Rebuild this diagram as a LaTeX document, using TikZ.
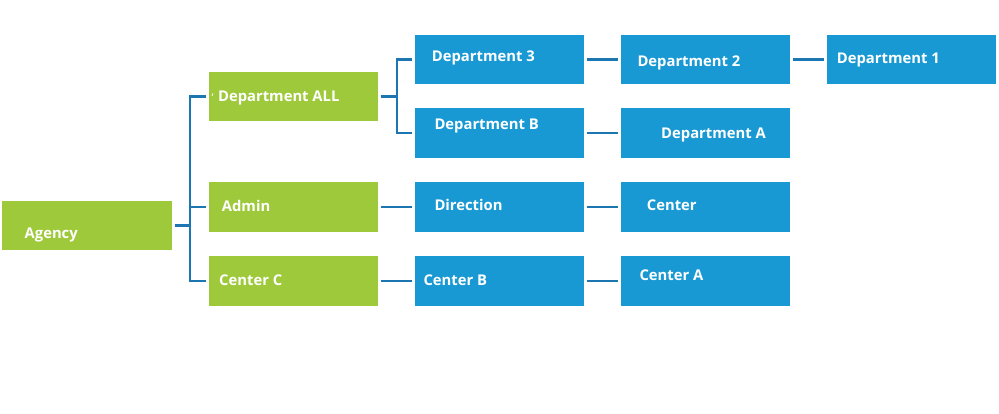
\documentclass[tikz,border=0pt]{standalone}
\usepackage{fontspec}
\setmainfont{Open Sans}
\definecolor{boxgreen}{RGB}{158,201,59}
\definecolor{boxblue}{RGB}{25,153,211}
\definecolor{linkblue}{RGB}{28,118,178}
\tikzset{
  gbox/.style={fill=boxgreen, draw=none, inner sep=0pt, minimum width=169pt, minimum height=49.5pt},
  bbox/.style={fill=boxblue, draw=none, inner sep=0pt, minimum width=169pt, minimum height=49.5pt},
  lbl/.style={anchor=base west, inner sep=0pt, text=white, font=\fontsize{14.8}{16}\selectfont\bfseries},
  link/.style={draw=linkblue, line width=2.4pt, shorten <=2.5pt, shorten >=2.5pt},
}
\begin{document}
\begin{tikzpicture}[x=1pt,y=-1pt]
\useasboundingbox (0,0) rectangle (999,414);
% boxes
\node[gbox, minimum width=170pt] (agency) at (87,225.7) {};
\node[gbox] (deptall) at (293.5,96.5) {};
\node[gbox] (admin) at (293.5,207) {};
\node[gbox] (centerc) at (293.5,280.8) {};
\node[bbox] (dept3) at (499.5,59.5) {};
\node[bbox] (dept2) at (705.5,59.5) {};
\node[bbox] (dept1) at (911.5,59.5) {};
\node[bbox] (deptb) at (499.5,133.2) {};
\node[bbox] (depta) at (705.5,133.2) {};
\node[bbox] (direction) at (499.5,207) {};
\node[bbox] (center) at (705.5,207) {};
\node[bbox] (centerb) at (499.5,280.8) {};
\node[bbox] (centera) at (705.5,280.8) {};
% labels
\node[lbl] (tagency) at (24.5,238.3) {Agency};
\node[lbl] (tdeptall) at (211.5,101.7) {{\mdseries\fontsize{11}{12}\selectfont ‘}\hspace{4.5pt}Department ALL};
\node[lbl] (tadmin) at (221.7,212) {Admin};
\node[lbl] (tcenterc) at (219,285.3) {Center C};
\node[lbl] (tdept3) at (431.7,62) {Department 3};
\node[lbl] (tdept2) at (637.3,66.7) {Department 2};
\node[lbl] (tdept1) at (836.7,64) {Department 1};
\node[lbl] (tdeptb) at (434.3,130) {Department B};
\node[lbl] (tdepta) at (661,138.3) {Department A};
\node[lbl] (tdirection) at (434.3,211) {Direction};
\node[lbl] (tcenter) at (646.7,211) {Center};
\node[lbl] (tcenterb) at (423.3,286) {Center B};
\node[lbl] (tcentera) at (639.3,280) {Center A};
% junctions
\coordinate (j1) at (190,225.7);
\coordinate (j2) at (397,96.5);
% connectors
\draw[link, shorten >=0pt] (agency.east) -- (j1);
\draw[link, shorten <=0pt] (j1) |- (deptall.west);
\draw[link, shorten <=0pt] (j1) -- (j1 |- admin.west) -- (admin.west);
\draw[link, shorten <=0pt] (j1) |- (centerc.west);
\draw[link, shorten >=0pt] (deptall.east) -- (j2);
\draw[link, shorten <=0pt] (j2) |- (dept3.west);
\draw[link, shorten <=0pt] (j2) |- (deptb.west);
\draw[link] (dept3.east) -- (dept2.west);
\draw[link] (dept2.east) -- (dept1.west);
\draw[link] (deptb.east) -- (depta.west);
\draw[link] (admin.east) -- (direction.west);
\draw[link] (direction.east) -- (center.west);
\draw[link] (centerc.east) -- (centerb.west);
\draw[link] (centerb.east) -- (centera.west);
\end{tikzpicture}
\end{document}
